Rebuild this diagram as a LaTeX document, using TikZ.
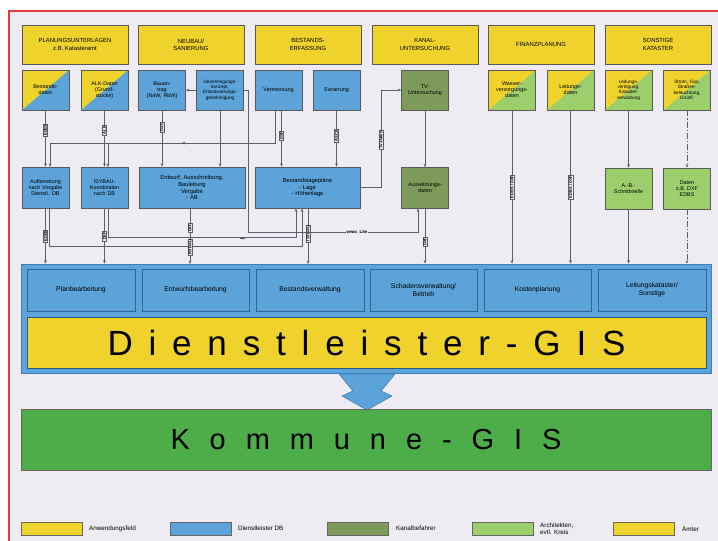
\documentclass[tikz,border=0pt]{standalone}
\usepackage{fontspec}
\setmainfont{Liberation Sans}
\usetikzlibrary{arrows.meta}
\definecolor{bg}{HTML}{EEEBF3}
\definecolor{yel}{HTML}{F0D22C}
\definecolor{blu}{HTML}{5BA3D9}
\definecolor{bluD}{HTML}{3F7FB9}
\definecolor{oliv}{HTML}{7E9A5B}
\definecolor{lgrn}{HTML}{9CCF6C}
\definecolor{grn}{HTML}{4DAD49}
\definecolor{redf}{HTML}{E83A3A}
\definecolor{lnc}{HTML}{5A606C}
\tikzset{
  box/.style={draw=black!65, line width=0.6pt, inner sep=1pt, align=center,
    font=\fontsize{5.4}{6.1}\selectfont},
  hdr/.style={box, fill=yel, minimum width=106pt, minimum height=39pt,
    font=\fontsize{5.9}{7.2}\selectfont},
  sm/.style={box, minimum width=47pt, minimum height=40pt, text width=45pt},
  wide/.style={box, minimum width=106pt, minimum height=41pt, text width=100pt,
    font=\fontsize{5.8}{6.8}\selectfont},
  splitY/.style={sm, path picture={\fill[yel] (path picture bounding box.north west)
    -- (path picture bounding box.north east) -- (path picture bounding box.south west) -- cycle;}},
  svc/.style={box, fill=blu, draw=bluD!80!black, minimum height=42pt,
    font=\fontsize{6.8}{7.8}\selectfont},
  ln/.style={draw=lnc, line width=1pt},
  arr/.style={ln, -{Stealth[length=3.4pt,width=2.8pt]}},
  dd/.style={dash pattern=on 6pt off 2pt on 1.2pt off 2pt},
  lbl/.style={fill=bg, draw=lnc, line width=0.3pt, inner sep=0.7pt, rotate=90,
    font=\fontsize{4}{4.4}\selectfont\bfseries},
  sw/.style={draw=black!60, line width=0.6pt, minimum width=61pt, minimum height=13pt, inner sep=0pt},
  lg/.style={anchor=west, inner sep=0pt, align=left, font=\fontsize{6.3}{6.6}\selectfont}
}
\begin{document}
\begin{tikzpicture}[x=1pt,y=-1pt]
\useasboundingbox (0,0) rectangle (718,541);
\fill[white] (0,0) rectangle (718,541);
\fill[bg] (9,11) rectangle (718,541);
\draw[redf, line width=2pt] (9,541) -- (9,11) -- (718,11);

% header row
\node[hdr] (H1) at (75,44.5) {PLANUNGSUNTERLAGEN\\z.B. Katasteramt};
\node[hdr] (H2) at (191,44.5) {NEUBAU/\\SANIERUNG};
\node[hdr] (H3) at (308,44.5) {BESTANDS-\\ERFASSUNG};
\node[hdr] (H4) at (425,44.5) {KANAL-\\UNTERSUCHUNG};
\node[hdr] (H5) at (541,44.5) {FINANZPLANUNG};
\node[hdr] (H6) at (658,44.5) {SONSTIGE\\KATASTER};

% second row
\node[splitY, fill=blu] (a) at (45.5,90) {Bestands-\\daten};
\node[splitY, fill=blu] (b) at (104.5,90) {ALK-Daten\\(Grund-\\stücke)};
\node[sm, fill=blu] (c) at (162,90) {Bauan-\\trag\\(NaW, RbW)};
\node[sm, fill=blu, font=\fontsize{4.7}{5.3}\selectfont] (d) at (220,90) {Genehmigungs-\\konzept,\\Entwässerungs-\\genehmigung};
\node[sm, fill=blu] (e) at (278.5,90) {Vermessung};
\node[sm, fill=blu] (f) at (336.5,90) {Sanierung};
\node[sm, fill=oliv] (g) at (425,90) {TV-\\Untersuchung};
\node[splitY, fill=lgrn] (h) at (512,90) {Wasser-\\versorgungs-\\daten};
\node[splitY, fill=lgrn] (i) at (570.5,90) {Leitungs-\\daten};
\node[splitY, fill=lgrn, font=\fontsize{4.7}{5.3}\selectfont] (j) at (628.5,90) {Leitungs-\\verlegung,\\Kataster-\\verwaltung};
\node[splitY, fill=lgrn, font=\fontsize{4.7}{5.3}\selectfont] (k) at (687,90) {Strom, Gas,\\Straßen-\\beleuchtung,\\Grünfl.};

% third row
\node[sm, fill=blu, minimum height=41pt] (A) at (45.5,187.5) {Aufbereitung\\nach Vorgabe\\Dienstl. DB};
\node[sm, fill=blu, minimum height=41pt] (B) at (104.5,187.5) {ISYBAU-\\Koordinaten\\nach DB};
\node[wide, fill=blu] (C) at (192,187.5) {Entwurf, Ausschreibung,\\Bauleitung\\Vergabe\\- AB};
\node[wide, fill=blu, minimum width=105pt] (D) at (307.5,187.5) {Bestandslagepläne\\- Lage\\- Höhenlage};
\node[sm, fill=oliv, minimum height=41pt] (E) at (425,188) {Auswertungs-\\daten};
\node[sm, fill=lgrn, minimum height=41pt] (F) at (628.5,188.5) {A.-B.-\\Schnittstelle};
\node[sm, fill=lgrn, minimum height=41pt] (G) at (687,188.5) {Daten\\z.B. DXF\\EDBS};

% service panel
\node[fill=blu, draw=bluD, line width=0.8pt, minimum width=690pt, minimum height=109pt, inner sep=0pt] (panel) at (366.5,318.5) {};
\node[svc, minimum width=108pt] (s1) at (81,290) {Planbearbeitung};
\node[svc, minimum width=107pt] (s2) at (195.5,290) {Entwurfsbearbeitung};
\node[svc, minimum width=108pt] (s3) at (310,290) {Bestandsverwaltung};
\node[svc, minimum width=107pt] (s4) at (423.5,290) {Schadensverwaltung/\\Betrieb};
\node[svc, minimum width=107pt] (s5) at (537.5,290) {Kostenplanung};
\node[svc, minimum width=108pt] (s6) at (652,290) {Leitungskataster/\\Sonstige};
\node[fill=yel, draw=bluD!70!black, line width=0.6pt, minimum width=679pt, minimum height=51pt, inner sep=0pt,
  font=\fontsize{35}{35}\selectfont] (dgis) at (366.5,342.5)
  {\makebox[518pt][s]{D\hfill i\hfill e\hfill n\hfill s\hfill t\hfill l\hfill e\hfill i\hfill s\hfill t\hfill e\hfill r\hfill -\hfill G\hfill I\hfill S}};

% big arrow
\fill[blu, draw=bluD, line width=0.6pt] (339,374) -- (395,374) -- (381,391) -- (392,396)
  -- (367,410) -- (342,396) -- (353,391) -- cycle;

% Kommune-GIS
\node[fill=grn, draw=black!60, line width=0.6pt, minimum width=690pt, minimum height=61pt, inner sep=0pt,
  font=\fontsize{29}{29}\selectfont] (kgis) at (366,439.5)
  {\makebox[391pt][s]{K\hfill o\hfill m\hfill m\hfill u\hfill n\hfill e\hfill -\hfill G\hfill I\hfill S}};

% connectors row2 -> row3
\draw[arr] (a) -- (A) node[lbl,pos=0.35] (l1) {EDBS};
\draw[arr] (b) -- (B) node[lbl,pos=0.35] (l2) {ALK};
\draw[arr] (c.south) -- (c.south |- C.north) node[lbl,pos=0.3] (l3) {DXF};
\draw[arr] (d.south) -- (d.south |- C.north);
\draw[arr] (d.west) -- (c.east);
\draw[ln] (d.east) -- (248,90) -- (248,232) -- (300,232);
\draw[arr] ([xshift=-3pt]e.south) -- (275.5,143) -| (50,167);
\draw[arr] (108,143) -- (108,167);
\draw[arr] (184,143) -- (182,143);
\draw[arr] ([xshift=3pt]e.south) -- ([xshift=3pt]e.south |- D.north) node[lbl,pos=0.45] (l4) {DXF};
\draw[arr] (f.south) -- (f.south |- D.north) node[lbl,pos=0.45] (l5) {ASCII};
\draw[arr] (D.east) -- (381,187.5) -- (381,90) -- (g.west);
\node[lbl] (l6) at (381,140) {TV-Daten};
\draw[arr] (g) -- (E);
\draw[arr] (j) -- (F);
\draw[arr, dd] (k) -- (G);

% row3 -> panel
\draw[arr] (A.south) -- (A.south |- panel.north) node[lbl,pos=0.5] (l7) {EDBS};
\draw[arr] (B.south) -- (B.south |- panel.north) node[lbl,pos=0.5] (l8) {DXF};
\draw[arr] ([xshift=4pt]A.south) -- ++(0,38) -| (302,208.5);
\draw[arr] ([xshift=4pt]B.south) -- ++(0,29.5) -| (296,208.5);
\draw[arr] (240,238) -- (246,238);
\draw[arr] (190,208.5) -- (190,264) node[lbl,pos=0.35] (l9) {DXF} node[lbl,pos=0.7] (l10) {ISYBAU};
\draw[arr] (308,208.5) -- (308,264) node[lbl,pos=0.45] (l11) {ISYBAU};
\draw[arr] (300,232) -- (418,232) -- (418,208.5);
\node[fill=bg, inner sep=0.6pt, font=\fontsize{4.4}{4.4}\selectfont\bfseries] (l12) at (357,232) {www. Lite};
\draw[arr] (E.south) -- (E.south |- panel.north) node[lbl,pos=0.6] (l13) {DXF};
\draw[arr] (h.south) -- (h.south |- panel.north) node[lbl,pos=0.5] (l14) {EDBS / DXF};
\draw[arr] (i.south) -- (i.south |- panel.north) node[lbl,pos=0.5] (l15) {EDBS / DXF};
\draw[arr] (F.south) -- (F.south |- panel.north);
\draw[arr, dd] (G.south) -- (G.south |- panel.north);

% legend
\node[sw, fill=yel] (sw1) at (51.5,528.5) {};
\node[lg] (t1) at (89,528.5) {Anwendungsfeld};
\node[sw, fill=blu] (sw2) at (200.5,528.5) {};
\node[lg] (t2) at (238,528.5) {Dienstleister DB};
\node[sw, fill=oliv] (sw3) at (357.5,528.5) {};
\node[lg] (t3) at (396,528.5) {Kanalbefahrer};
\node[sw, fill=lgrn] (sw4) at (502.5,528.5) {};
\node[lg] (t4) at (540,528.5) {Architekten,\\evtl. Kreis};
\node[sw, fill=yel] (sw5) at (644,528.5) {};
\node[lg] (t5) at (682,528.5) {Ämter};
\end{tikzpicture}
\end{document}
